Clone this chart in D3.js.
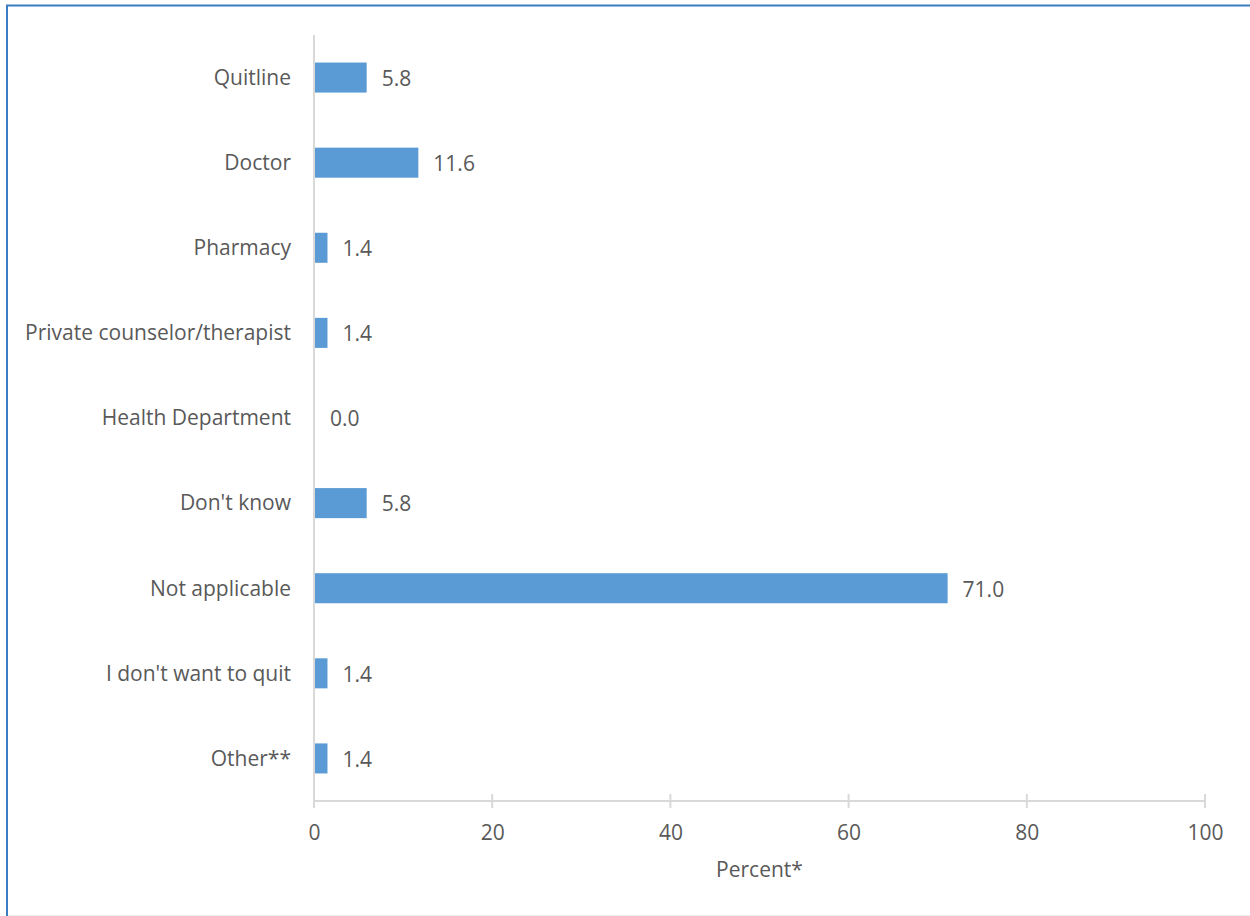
<!DOCTYPE html>
<html>
<head>
<meta charset="utf-8">
<script src="https://cdn.jsdelivr.net/npm/d3@7"></script>
<style>
  html, body { margin: 0; padding: 0; background: #fff; }
  svg { display: block; }
  text { font-family: "Open Sans", "Noto Sans", sans-serif; fill: #595959; }
</style>
</head>
<body>
<svg id="chart" width="1250" height="916"></svg>
<script>
// Sources of help for quitting
const categories = [
  "Quitline",
  "Doctor",
  "Pharmacy",
  "Private counselor/therapist",
  "Health Department",
  "Don't know",
  "Not applicable",
  "I don't want to quit",
  "Other**"
];
const percents = [5.8, 11.6, 1.4, 1.4, 0.0, 5.8, 71.0, 1.4, 1.4];
const xTicks = [0, 20, 40, 60, 80, 100];
const xTitle = "Percent*";

const svg = d3.select("#chart");
const W = 1250, H = 916;
const FS = 21;

// outer frame
svg.append("rect")
  .attr("x", 7).attr("y", 5.5)
  .attr("width", W).attr("height", H)
  .attr("fill", "none")
  .attr("stroke", "#3b7cc2")
  .attr("stroke-width", 2);
svg.append("line")
  .attr("x1", 8).attr("x2", W).attr("y1", 915.5).attr("y2", 915.5)
  .attr("stroke", "#eeeeee").attr("stroke-width", 1);

const plot = { left: 314, right: 1205, top: 35, bottom: 801 };

const x = d3.scaleLinear().domain([0, 100]).range([plot.left, plot.right]);
const y = d3.scaleBand().domain(categories).range([plot.top, plot.bottom]).paddingInner(0.647).paddingOuter(0.3235);

const data = categories.map((c, i) => ({ cat: c, v: percents[i] }));

// bars
svg.append("g").selectAll("rect")
  .data(data).join("rect")
  .attr("x", x(0) + 1)
  .attr("y", d => y(d.cat))
  .attr("width", d => Math.max(0, x(d.v) - x(0)))
  .attr("height", y.bandwidth())
  .attr("fill", "#5b9bd5");

// value labels
svg.append("g").selectAll("text")
  .data(data).join("text")
  .attr("x", d => x(d.v) + 16)
  .attr("y", d => y(d.cat) + y.bandwidth() / 2 + 1)
  .attr("dy", "0.35em")
  .attr("font-size", FS)
  .text(d => d.v.toFixed(1));

// category labels
svg.append("g").selectAll("text")
  .data(data).join("text")
  .attr("x", 291)
  .attr("y", d => y(d.cat) + y.bandwidth() / 2)
  .attr("dy", "0.35em")
  .attr("text-anchor", "end")
  .attr("font-size", FS)
  .text(d => d.cat);

// vertical axis line
svg.append("line")
  .attr("x1", x(0)).attr("x2", x(0))
  .attr("y1", plot.top).attr("y2", plot.bottom)
  .attr("stroke", "#d9d9d9").attr("stroke-width", 2);

// horizontal axis
const xAxis = d3.axisBottom(x).tickValues(xTicks).tickSize(0).tickPadding(0).tickFormat(d3.format("d"));
const gx = svg.append("g").attr("transform", `translate(0,${plot.bottom})`).call(xAxis);
gx.select(".domain").remove();
gx.selectAll(".tick line").remove();
gx.selectAll(".tick text")
  .attr("y", 32)
  .attr("dy", "0.35em")
  .attr("font-size", FS)
  .attr("fill", "#595959")
  .style("font-family", "'Open Sans', 'Noto Sans', sans-serif");

svg.append("line")
  .attr("x1", x(0)).attr("x2", x(100))
  .attr("y1", plot.bottom).attr("y2", plot.bottom)
  .attr("stroke", "#d9d9d9").attr("stroke-width", 2);
svg.append("g").selectAll("line")
  .data(xTicks).join("line")
  .attr("x1", d => x(d)).attr("x2", d => x(d))
  .attr("y1", plot.bottom - 7).attr("y2", plot.bottom + 7)
  .attr("stroke", "#d9d9d9").attr("stroke-width", 2);

// axis title
svg.append("text")
  .attr("x", (x(0) + x(100)) / 2)
  .attr("y", 870)
  .attr("dy", "0.35em")
  .attr("text-anchor", "middle")
  .attr("font-size", FS)
  .text(xTitle);
</script>
</body>
</html>
